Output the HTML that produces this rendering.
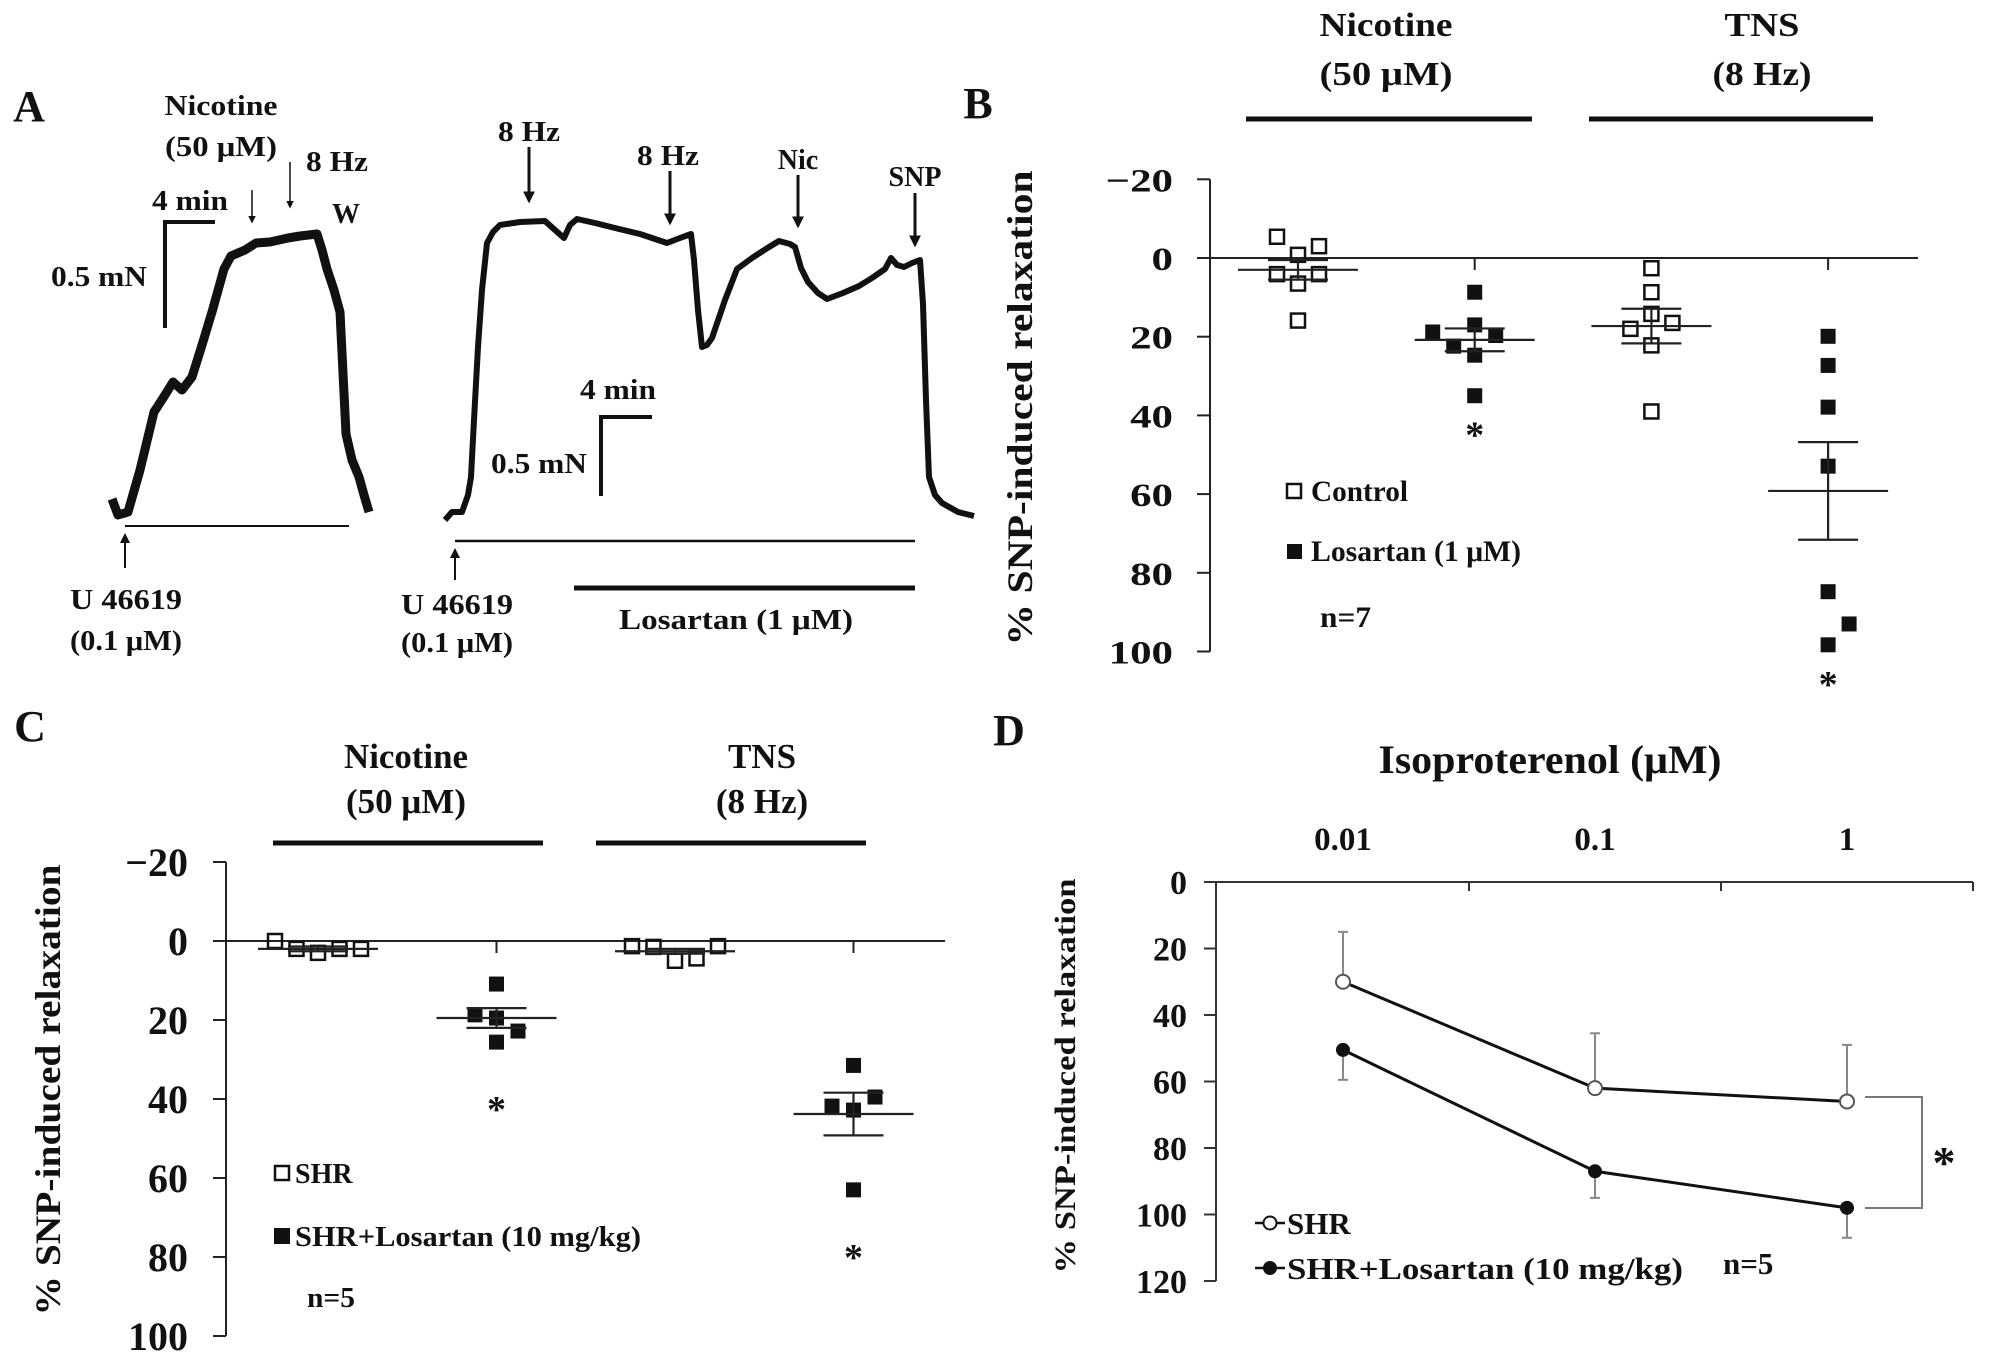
<!DOCTYPE html>
<html><head><meta charset="utf-8"><title>Figure</title>
<style>
html,body{margin:0;padding:0;background:#fff;}
svg{display:block;}
text{font-family:"Liberation Serif",serif;font-weight:bold;fill:#111;}
</style></head>
<body>
<svg id="fig" width="1991" height="1370" viewBox="0 0 1991 1370" xmlns="http://www.w3.org/2000/svg">
<defs>
<marker id="ah" viewBox="0 0 10 10" refX="8" refY="5" markerWidth="4" markerHeight="4" orient="auto"><path d="M0,0 L10,5 L0,10 z" fill="#111"/></marker>
<marker id="ahs" viewBox="0 0 10 10" refX="8" refY="5" markerWidth="5" markerHeight="5" orient="auto"><path d="M0,0 L10,5 L0,10 z" fill="#111"/></marker>
</defs>

<!-- ===== Panel A ===== -->
<g>
<text x="29" y="121" font-size="44" text-anchor="middle">A</text>
<text x="221" y="115" font-size="28" text-anchor="middle" textLength="113" lengthAdjust="spacingAndGlyphs">Nicotine</text>
<text x="221" y="156" font-size="28" text-anchor="middle" textLength="112" lengthAdjust="spacingAndGlyphs">(50 μM)</text>
<text x="306" y="171" font-size="28" textLength="62" lengthAdjust="spacingAndGlyphs">8 Hz</text>
<text x="332" y="223" font-size="28">W</text>
<text x="152" y="210" font-size="28" textLength="76" lengthAdjust="spacingAndGlyphs">4 min</text>
<text x="147" y="286" font-size="28" text-anchor="end" textLength="96" lengthAdjust="spacingAndGlyphs">0.5 mN</text>
<polyline points="165,328 165,222 215,222" fill="none" stroke="#111" stroke-width="4"/>
<line x1="252" y1="190" x2="252" y2="222" stroke="#111" stroke-width="1.5" marker-end="url(#ahs)"/>
<line x1="290" y1="162" x2="290" y2="207" stroke="#111" stroke-width="1.5" marker-end="url(#ahs)"/>
<polyline points="112,499 118,515 128,512 140,470 154,412 165,395 173,382 182,390 192,377 202,345 212,312 224,269 231,256 245,250 256,243 270,242 288,238 300,236 317,234 322,250 327,269 334,290 340,312 346,434 352,460 359,477 364,495 369,512" fill="none" stroke="#111" stroke-width="9" stroke-linejoin="round"/>
<line x1="125" y1="526" x2="349" y2="526" stroke="#111" stroke-width="2"/>
<line x1="125" y1="568" x2="125" y2="535" stroke="#111" stroke-width="2" marker-end="url(#ahs)"/>
<text x="70" y="609" font-size="28" textLength="112" lengthAdjust="spacingAndGlyphs">U 46619</text>
<text x="70" y="650" font-size="28" textLength="112" lengthAdjust="spacingAndGlyphs">(0.1 μM)</text>

<polyline points="445,520 452,512 462,512 468,495 471,477 474,420 478,347 482,290 487,243 493,232 500,225 520,222 545,221 555,230 564,238 570,225 577,219 595,223 615,228 640,234 667,243 680,238 691,234 694,260 698,310 702,347 707,345 712,338 725,300 737,269 752,258 769,247 779,241 790,244 795,247 801,268 808,282 818,293 827,299 843,293 859,286 872,278 885,269 891,258 897,265 904,267 912,263 920,260 923,304 926,400 929,477 935,495 942,503 958,512 974,516" fill="none" stroke="#111" stroke-width="6" stroke-linejoin="round"/>
<line x1="455" y1="541" x2="915" y2="541" stroke="#111" stroke-width="2.5"/>
<line x1="455" y1="580" x2="455" y2="550" stroke="#111" stroke-width="2" marker-end="url(#ahs)"/>
<line x1="574" y1="588" x2="915" y2="588" stroke="#111" stroke-width="5"/>
<text x="736" y="629" font-size="28" text-anchor="middle" textLength="234" lengthAdjust="spacingAndGlyphs">Losartan (1  μM)</text>
<text x="401" y="614" font-size="28" textLength="112" lengthAdjust="spacingAndGlyphs">U 46619</text>
<text x="401" y="652" font-size="28" textLength="112" lengthAdjust="spacingAndGlyphs">(0.1 μM)</text>
<text x="529" y="141" font-size="28" text-anchor="middle" textLength="62" lengthAdjust="spacingAndGlyphs">8 Hz</text>
<line x1="529" y1="147" x2="529" y2="201" stroke="#111" stroke-width="3" marker-end="url(#ah)"/>
<text x="668" y="165" font-size="28" text-anchor="middle" textLength="62" lengthAdjust="spacingAndGlyphs">8 Hz</text>
<line x1="670" y1="171" x2="670" y2="223" stroke="#111" stroke-width="3" marker-end="url(#ah)"/>
<text x="798" y="169" font-size="28" text-anchor="middle">Nic</text>
<line x1="798" y1="175" x2="798" y2="226" stroke="#111" stroke-width="3" marker-end="url(#ah)"/>
<text x="915" y="186" font-size="28" text-anchor="middle">SNP</text>
<line x1="915" y1="193" x2="915" y2="245" stroke="#111" stroke-width="3" marker-end="url(#ah)"/>
<polyline points="601,496 601,417 652,417" fill="none" stroke="#111" stroke-width="4"/>
<text x="580" y="399" font-size="28" textLength="76" lengthAdjust="spacingAndGlyphs">4 min</text>
<text x="587" y="473" font-size="28" text-anchor="end" textLength="96" lengthAdjust="spacingAndGlyphs">0.5 mN</text>
</g>

<!-- ===== Panel B ===== -->
<g>
<text x="978" y="118" font-size="44" text-anchor="middle">B</text>
<text x="1386" y="36" font-size="34" text-anchor="middle" textLength="133" lengthAdjust="spacingAndGlyphs">Nicotine</text>
<text x="1386" y="85" font-size="34" text-anchor="middle" textLength="133" lengthAdjust="spacingAndGlyphs">(50 μM)</text>
<text x="1762" y="36" font-size="34" text-anchor="middle" textLength="75" lengthAdjust="spacingAndGlyphs">TNS</text>
<text x="1762" y="85" font-size="34" text-anchor="middle" textLength="99" lengthAdjust="spacingAndGlyphs">(8 Hz)</text>
<line x1="1246" y1="119" x2="1532" y2="119" stroke="#111" stroke-width="5"/>
<line x1="1589" y1="119" x2="1873" y2="119" stroke="#111" stroke-width="5"/>
<text transform="translate(1032,408) rotate(-90)" font-size="36" text-anchor="middle" textLength="475" lengthAdjust="spacingAndGlyphs">% SNP-induced relaxation</text>
<rect x="1287" y="484" width="14" height="14" fill="#fff" stroke="#111" stroke-width="2.5"/>
<text x="1311" y="501" font-size="30" textLength="97" lengthAdjust="spacingAndGlyphs">Control</text>
<rect x="1287" y="544" width="15" height="15" fill="#111"/>
<text x="1311" y="561" font-size="30" textLength="210" lengthAdjust="spacingAndGlyphs">Losartan (1 μM)</text>
<text x="1320" y="627" font-size="30" textLength="51" lengthAdjust="spacingAndGlyphs">n=7</text>
<g id="bAxis"></g><g id="bMarks"></g>
</g>

<!-- ===== Panel C ===== -->
<g>
<text x="30" y="741" font-size="44" text-anchor="middle">C</text>
<text x="406" y="768" font-size="35" text-anchor="middle" textLength="124" lengthAdjust="spacingAndGlyphs">Nicotine</text>
<text x="406" y="813" font-size="35" text-anchor="middle">(50 μM)</text>
<text x="762" y="768" font-size="35" text-anchor="middle">TNS</text>
<text x="762" y="813" font-size="35" text-anchor="middle">(8 Hz)</text>
<line x1="273" y1="843" x2="543" y2="843" stroke="#111" stroke-width="5"/>
<line x1="596" y1="843" x2="866" y2="843" stroke="#111" stroke-width="5"/>
<text transform="translate(60,1090) rotate(-90)" font-size="36" text-anchor="middle" textLength="451" lengthAdjust="spacingAndGlyphs">% SNP-induced relaxation</text>
<rect x="275" y="1166" width="14" height="14" fill="#fff" stroke="#111" stroke-width="2.5"/>
<text x="295" y="1183" font-size="28">SHR</text>
<rect x="274" y="1228" width="16" height="16" fill="#111"/>
<text x="295" y="1246" font-size="28" textLength="346" lengthAdjust="spacingAndGlyphs">SHR+Losartan (10 mg/kg)</text>
<text x="307" y="1307" font-size="28" textLength="48" lengthAdjust="spacingAndGlyphs">n=5</text>
<g id="cAxis"></g><g id="cMarks"></g>
</g>

<!-- ===== Panel D ===== -->
<g>
<text x="1009" y="745" font-size="44" text-anchor="middle">D</text>
<text x="1550" y="773" font-size="40" text-anchor="middle" textLength="343" lengthAdjust="spacingAndGlyphs">Isoproterenol (μM)</text>
<text transform="translate(1075,1076) rotate(-90)" font-size="30" text-anchor="middle" textLength="395" lengthAdjust="spacingAndGlyphs">% SNP-induced relaxation</text>
<line x1="1255" y1="1223" x2="1285" y2="1223" stroke="#111" stroke-width="2.5"/>
<circle cx="1270" cy="1223" r="6.5" fill="#fff" stroke="#111" stroke-width="2"/>
<text x="1287" y="1234" font-size="31">SHR</text>
<line x1="1255" y1="1268" x2="1285" y2="1268" stroke="#111" stroke-width="2.5"/>
<circle cx="1270" cy="1268" r="7" fill="#111"/>
<text x="1287" y="1279" font-size="31" textLength="396" lengthAdjust="spacingAndGlyphs">SHR+Losartan (10 mg/kg)</text>
<text x="1723" y="1274" font-size="31">n=5</text>
<polyline points="1865,1097 1922,1097 1922,1208 1865,1208" fill="none" stroke="#777" stroke-width="2"/>
<text x="1944" y="1178" font-size="46" text-anchor="middle">*</text>
<g id="dAxis"></g><g id="dMarks"></g>
</g>
</svg>

<script>
// ---------- Panel B data ----------
const bCategories = ['Nicotine Control', 'Nicotine Losartan', 'TNS Control', 'TNS Losartan'];
const bTicks = [-20, 0, 20, 40, 60, 80, 100];
const bTickLabels = ['\u221220', '0', '20', '40', '60', '80', '100'];
const bNicControl = [-5.4, -3, -0.8, 4.1, 4.1, 6.5, 15.9];
const bNicControlSlot = [-1, 1, 0, -1, 1, 0, 0];
const bNicLosartan = [8.7, 18.8, 17, 19.7, 22.4, 24.7, 35];
const bNicLosartanSlot = [0, -2, 0, 1, -1, 0, 0];
const bTnsControl = [2.6, 8.7, 14.2, 18, 16.5, 22.2, 39];
const bTnsControlSlot = [0, 0, 0, -1, 1, 0, 0];
const bTnsLosartan = [19.9, 27.3, 37.9, 52.9, 84.8, 93, 98.3];
const bTnsLosartanSlot = [0, 0, 0, 0, 0, 1, 0];
const bMeans = [3, 20.8, 17.3, 59.2];
const bSem = [2.5, 2.9, 4.4, 12.4];
const bSignificant = [false, true, false, true];

// ---------- Panel C data ----------
const cCategories = ['Nicotine SHR', 'Nicotine SHR+Losartan', 'TNS SHR', 'TNS SHR+Losartan'];
const cTicks = [-20, 0, 20, 40, 60, 80, 100];
const cTickLabels = ['\u221220', '0', '20', '40', '60', '80', '100'];
const cNicShr = [0, 2, 3, 2, 2];
const cNicShrSlot = [-2, -1, 0, 1, 2];
const cNicLos = [10.9, 18.7, 19.5, 22.8, 25.6];
const cNicLosSlot = [0, -1, 0, 1, 0];
const cTnsShr = [1.3, 1.5, 5, 4.4, 1.3];
const cTnsShrSlot = [-2, -1, 0, 1, 2];
const cTnsLos = [31.5, 39.5, 41.8, 42.8, 63];
const cTnsLosSlot = [0, 1, -1, 0, 0];
const cMeans = [2.0, 19.5, 2.6, 43.8];
const cSem = [0.6, 2.5, 0.6, 5.4];
const cSignificant = [false, true, false, true];

// ---------- Panel D data ----------
const dConcLabels = ['0.01', '0.1', '1'];
const dTicks = [0, 20, 40, 60, 80, 100, 120];
const dShr = [30, 62, 66];
const dShrErr = [15, 16.5, 17];
const dLos = [50.5, 87, 98];
const dLosErr = [9, 8, 9];

const NS = 'http://www.w3.org/2000/svg';
function add(parent, tag, attrs, txt) {
  const el = document.createElementNS(NS, tag);
  for (const k in attrs) el.setAttribute(k, attrs[k]);
  if (txt !== undefined) el.textContent = txt;
  parent.appendChild(el);
  return el;
}

// ---- Scatter panel helper ----
function scatterPanel(cfg) {
  const ax = document.getElementById(cfg.axisId);
  const mk = document.getElementById(cfg.marksId);
  let el = add(ax, 'line', {x1: cfg.axisX, y1: cfg.y(cfg.ticks[0]), x2: cfg.axisX, y2: cfg.y(cfg.ticks[cfg.ticks.length - 1]), stroke: '#222', 'stroke-width': 2});
  
  
  cfg.ticks.forEach((t, i) => {
    const yy = cfg.y(t);
    const tk = add(ax, 'line', {x1: cfg.axisX - 13, y1: yy, x2: cfg.axisX, y2: yy, stroke: '#222', 'stroke-width': 2});
    
    
    const lb = add(ax, 'text', {transform: 'translate(' + cfg.labelX + ',' + (yy + cfg.labelDy) + ') scale(' + cfg.labelSx + ',1)', 'font-size': cfg.labelSize, 'text-anchor': 'end'}, cfg.tickLabels[i]);
    
    
  });
  const z = add(ax, 'line', {x1: cfg.zeroX1, y1: cfg.y(0), x2: cfg.zeroX2, y2: cfg.y(0), stroke: '#222', 'stroke-width': 2});
  
  
  [1, 3].forEach(i => {
    const st = add(ax, 'line', {x1: cfg.x(i), y1: cfg.y(0), x2: cfg.x(i), y2: cfg.y(0) + 12, stroke: '#222', 'stroke-width': 2});
    
    
  });
  cfg.series.forEach((vals, ci) => {
    const filled = ci % 2 === 1;
    vals.forEach((v, j) => {
      const cx = cfg.x(ci) + cfg.slots[ci][j] * cfg.slotW;
      const cy = cfg.y(v);
      const r = add(mk, 'rect', filled
        ? {x: cx - 7.5, y: cy - 7.5, width: 15, height: 15, fill: '#111'}
        : {x: cx - 7, y: cy - 7, width: 14, height: 14, fill: 'none', stroke: '#111', 'stroke-width': 2.5});
      
      
    });
    const m = cfg.means[ci], s = cfg.sem[ci], cx = cfg.x(ci);
    const ml = add(mk, 'line', {x1: cx - cfg.meanHalf, y1: cfg.y(m), x2: cx + cfg.meanHalf, y2: cfg.y(m), stroke: '#222', 'stroke-width': 2.2});
    
    
    const vl = add(mk, 'line', {x1: cx, y1: cfg.y(m - s), x2: cx, y2: cfg.y(m + s), stroke: '#222', 'stroke-width': 2.2});
    
    
    [m - s, m + s].forEach(v => {
      const sl = add(mk, 'line', {x1: cx - cfg.semHalf, y1: cfg.y(v), x2: cx + cfg.semHalf, y2: cfg.y(v), stroke: '#222', 'stroke-width': 2.2});
      
      
    });
    if (cfg.sig[ci]) {
      const maxV = Math.max(...vals);
      const a = add(mk, 'text', {x: cx, y: cfg.y(maxV) + cfg.starGap, 'font-size': 38, 'text-anchor': 'middle'}, '*');
      
      
    }
  });
}

scatterPanel({
  axisId: 'bAxis', marksId: 'bMarks',
  y: v => 258 + v * 3.935, x: i => 1298 + i * 176.7,
  axisX: 1210, labelX: 1173, labelDy: 12, labelSx: 1.3, labelSize: 33,
  ticks: bTicks, tickLabels: bTickLabels, zeroX1: 1200, zeroX2: 1918,
  series: [bNicControl, bNicLosartan, bTnsControl, bTnsLosartan],
  slots: [bNicControlSlot, bNicLosartanSlot, bTnsControlSlot, bTnsLosartanSlot], slotW: 21,
  means: bMeans, sem: bSem, sig: bSignificant, meanHalf: 60, semHalf: 30, starGap: 52
});

scatterPanel({
  axisId: 'cAxis', marksId: 'cMarks',
  y: v => 941 + v * 3.95, x: i => 318 + i * 178.5,
  axisX: 226, labelX: 188, labelDy: 14, labelSx: 1, labelSize: 40,
  ticks: cTicks, tickLabels: cTickLabels, zeroX1: 214, zeroX2: 945,
  series: [cNicShr, cNicLos, cTnsShr, cTnsLos],
  slots: [cNicShrSlot, cNicLosSlot, cTnsShrSlot, cTnsLosSlot], slotW: 21.5,
  means: cMeans, sem: cSem, sig: cSignificant, meanHalf: 60, semHalf: 30, starGap: 80
});

// ---- Panel D ----
(function () {
  const ax = document.getElementById('dAxis');
  const mk = document.getElementById('dMarks');
  const y = v => 882 + v * 3.325;
  const x = i => 1343 + i * 252;
  let el = add(ax, 'line', {x1: 1216, y1: y(dTicks[0]), x2: 1216, y2: y(dTicks[dTicks.length - 1]), stroke: '#333', 'stroke-width': 2});
  
  
  el = add(ax, 'line', {x1: 1216, y1: y(0), x2: x(dConcLabels.length - 1) + 126, y2: y(0), stroke: '#333', 'stroke-width': 2});
  
  
  dConcLabels.forEach((c, i) => {
    const tk = add(ax, 'line', {x1: x(i) + 126, y1: y(0), x2: x(i) + 126, y2: y(0) + 9, stroke: '#333', 'stroke-width': 2});
    
    
    const lb = add(ax, 'text', {x: x(i), y: 850, 'font-size': 33, 'text-anchor': 'middle'}, c);
    
    
  });
  dTicks.forEach(t => {
    const tk = add(ax, 'line', {x1: 1204, y1: y(t), x2: 1216, y2: y(t), stroke: '#333', 'stroke-width': 2});
    
    
    const lb = add(ax, 'text', {x: 1187, y: y(t) + 12, 'font-size': 34, 'text-anchor': 'end'}, String(t));
    
    
  });
  function series(vals, errs, dir, filled, name) {
    vals.forEach((v, i) => {
      const e = add(mk, 'line', {x1: x(i), y1: y(v), x2: x(i), y2: y(v + dir * errs[i]), stroke: '#888', 'stroke-width': 2});
      
      
      const cap = add(mk, 'line', {x1: x(i) - 5, y1: y(v + dir * errs[i]), x2: x(i) + 5, y2: y(v + dir * errs[i]), stroke: '#888', 'stroke-width': 2});
      
      
    });
    const ln = add(mk, 'polyline', {points: vals.map((v, i) => x(i) + ',' + y(v)).join(' '), fill: 'none', stroke: '#111', 'stroke-width': 3});
    
    
    vals.forEach((v, i) => {
      const c = add(mk, 'circle', filled ? {cx: x(i), cy: y(v), r: 7, fill: '#111'} : {cx: x(i), cy: y(v), r: 7, fill: '#fff', stroke: '#555', 'stroke-width': 2});
      
      
    });
  }
  series(dShr, dShrErr, -1, false, 'shr');
  series(dLos, dLosErr, 1, true, 'shr-losartan');
})();
</script>
</body></html>
